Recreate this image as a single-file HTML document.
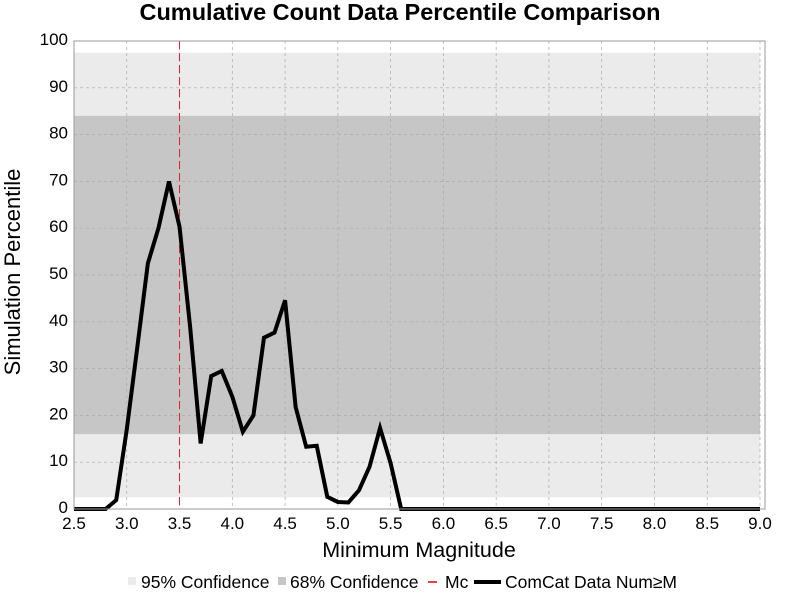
<!DOCTYPE html>
<html><head><meta charset="utf-8"><style>
body{margin:0;background:#fff;font-family:"Liberation Sans",sans-serif}
svg{display:block}
</style></head><body>
<svg id="c" width="800" height="600" xmlns="http://www.w3.org/2000/svg">
<text x="400" y="20" text-anchor="middle" font-size="23.5" font-weight="bold">Cumulative Count Data Percentile Comparison</text>
<g id="plot"></g>
<text x="419" y="557" text-anchor="middle" font-size="21.5">Minimum Magnitude</text>
<text transform="translate(20,272) rotate(-90)" text-anchor="middle" font-size="22">Simulation Percentile</text>
<g font-size="17.5">
<g><rect x="128" y="577" width="8" height="8" fill="#ebebeb"/><text x="141" y="588">95% Confidence</text></g>
<g><rect x="278" y="577" width="8" height="8" fill="#c6c6c6"/><text x="290" y="588">68% Confidence</text></g>
<g><line x1="428" y1="582" x2="437" y2="582" stroke="#e00" stroke-width="1.5"/><text x="445" y="588">Mc</text></g>
<g><line x1="474" y1="582" x2="501" y2="582" stroke="#000" stroke-width="4"/><text x="505" y="588">ComCat Data Num≥M</text></g>
</g>
</svg>
<script>
const mags=[2.5,2.6,2.7,2.8,2.9,3.0,3.1,3.2,3.3,3.4,3.5,3.6,3.7,3.8,3.9,4.0,4.1,4.2,4.3,4.4,4.5,4.6,4.7,4.8,4.9,5.0,5.1,5.2,5.3,5.4,5.5,5.6,9.0];
const percentiles=[0,0,0,0,1.9,17,34.6,52.5,60,70,60.3,39,14,28.4,29.5,24,16.5,20,36.6,37.7,44.6,21.8,13.3,13.5,2.6,1.5,1.4,4,9,17.3,9.8,0,0];
const band95=[2.5,97.5];
const band68=[16,84];
const mc=[3.5];
const xTicks=[2.5,3.0,3.5,4.0,4.5,5.0,5.5,6.0,6.5,7.0,7.5,8.0,8.5,9.0];
const yTicks=[0,10,20,30,40,50,60,70,80,90,100];
const NS="http://www.w3.org/2000/svg";
const L=74,R=765,T=41,B=509;
const X=v=>L+(v-2.5)/6.5*686;
const Y=v=>B-v/100*(B-T);
const g=document.getElementById('plot');
function mk(t,a){const e=document.createElementNS(NS,t);for(const k in a)e.setAttribute(k,a[k]);g.appendChild(e);return e;}
let e=mk('rect',{x:L,y:T,width:R-L,height:B-T,fill:'#fff'});


e=mk('rect',{x:L,y:Y(band95[1]),width:X(9)-L,height:Y(band95[0])-Y(band95[1]),fill:'#ebebeb'});


e=mk('rect',{x:L,y:Y(band68[1]),width:X(9)-L,height:Y(band68[0])-Y(band68[1]),fill:'#c6c6c6'});


xTicks.forEach(v=>{
 e=mk('line',{x1:X(v),x2:X(v),y1:T,y2:B,stroke:'#aaa','stroke-width':0.7,'stroke-dasharray':'3,3'});
 
 
 e=mk('text',{x:X(v),y:B+20,'text-anchor':'middle','font-size':17});e.textContent=v.toFixed(1);
 
 
});
yTicks.forEach(v=>{
 e=mk('line',{x1:L,x2:R,y1:Y(v),y2:Y(v),stroke:'#aaa','stroke-width':0.7,'stroke-dasharray':'3,3'});
 
 
 e=mk('text',{x:L-6,y:Y(v)+4,'text-anchor':'end','font-size':17});e.textContent=v;
 
 
});
e=mk('line',{x1:X(mc[0]),x2:X(mc[0]),y1:T,y2:B,stroke:'#d22','stroke-width':1,'stroke-dasharray':'8,4'});


e=mk('polyline',{points:mags.map((m,i)=>X(m)+','+Y(percentiles[i])).join(' '),fill:'none',stroke:'#000','stroke-width':4,'stroke-linejoin':'miter'});


e=mk('rect',{x:L,y:T,width:R-L,height:B-T,fill:'none',stroke:'#999','stroke-width':1});


</script>
</body></html>
